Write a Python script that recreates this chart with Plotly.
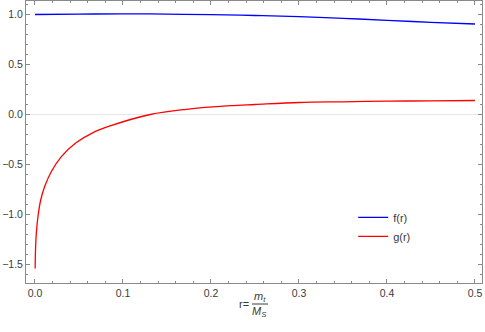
import plotly.graph_objects as go

# values
r_f = [0.0, 0.05, 0.1, 0.13, 0.2, 0.25, 0.3, 0.35, 0.4, 0.45, 0.5]
f_vals = [1.0, 1.004, 1.006, 1.006, 0.998, 0.99, 0.978, 0.962, 0.942, 0.922, 0.905]

r_g = [0.0002, 0.0006, 0.0015, 0.0034, 0.0065, 0.011, 0.0185, 0.030, 0.0466,
       0.0655, 0.0845, 0.131, 0.172, 0.222, 0.25,
       0.3, 0.35, 0.4, 0.45, 0.5]
g_vals = [-1.54, -1.36, -1.19, -1.02, -0.855, -0.72, -0.572, -0.422, -0.283,
          -0.183, -0.117, 0.0, 0.052, 0.088, 0.10,
          0.12, 0.127, 0.133, 0.137, 0.14]

x_ticks = [0.0, 0.1, 0.2, 0.3, 0.4, 0.5]
y_ticks = [-1.5, -1.0, -0.5, 0.0, 0.5, 1.0]

FONT = "Liberation Sans, Arial, sans-serif"
FRAME = "#8a8a8a"
TEXT = "#3a3a3a"

fig = go.Figure()
fig.add_trace(go.Scatter(x=r_f, y=f_vals, mode="lines", name="f(r)",
                         line=dict(color="#0000ff", width=1.3, shape="spline")))
fig.add_trace(go.Scatter(x=r_g, y=g_vals, mode="lines", name="g(r)",
                         line=dict(color="#ff0000", width=1.3, shape="spline")))

axis_common = dict(
    showline=True, linecolor=FRAME, linewidth=1, mirror="ticks",
    ticks="inside", ticklen=4, tickcolor=FRAME, tickwidth=1,
    showgrid=False, automargin=False,
    tickfont=dict(family=FONT, size=10.5, color=TEXT),
)

fig.update_layout(
    width=485, height=332,
    margin=dict(l=26, r=3, t=1, b=49),
    paper_bgcolor="white", plot_bgcolor="white",
    font=dict(family=FONT, size=10.5, color=TEXT),
    hovermode=False,
    xaxis=dict(range=[-0.0102, 0.508], tickvals=x_ticks,
               ticktext=[f"{v:.1f}" for v in x_ticks], zeroline=False,
               minor=dict(dtick=0.02, ticks="inside", ticklen=2, tickcolor=FRAME),
               **axis_common),
    yaxis=dict(range=[-1.685, 1.135], tickvals=y_ticks,
               ticktext=[f"{v:.1f}".replace("-", "\u2212") for v in y_ticks],
               zeroline=True, zerolinecolor="#e6e6e6", zerolinewidth=1,
               minor=dict(dtick=0.1, ticks="inside", ticklen=2, tickcolor=FRAME),
               **axis_common),
    legend=dict(x=0.7175, y=0.284, xanchor="left", yanchor="top",
                bgcolor="rgba(0,0,0,0)", itemwidth=30, tracegroupgap=0,
                font=dict(family=FONT, size=11, color=TEXT)),
)

# axis label  r = m_t / M_S
fig.add_annotation(text="r=", x=0.479, y=-0.076, xref="paper", yref="paper",
                   showarrow=False, xanchor="center", yanchor="middle",
                   font=dict(family=FONT, size=11, color=TEXT))
fig.add_annotation(text="<i>m<sub>t</sub></i>", x=0.513, y=-0.048, xref="paper", yref="paper",
                   showarrow=False, xanchor="center", yanchor="middle",
                   font=dict(family=FONT, size=11, color=TEXT))
fig.add_annotation(text="<i>M<sub>S</sub></i>", x=0.513, y=-0.102, xref="paper", yref="paper",
                   showarrow=False, xanchor="center", yanchor="middle",
                   font=dict(family=FONT, size=11, color=TEXT))
fig.add_shape(type="line", xref="paper", yref="paper",
              x0=(252 - 26) / 456, x1=(268 - 26) / 456, y0=-0.0745, y1=-0.0745,
              line=dict(color=TEXT, width=1))

# drop the browser's default body margin so the figure sits at the page corner
fig.write_html("out.html", config={"displayModeBar": False},
               post_script="document.body.style.margin='0';")
